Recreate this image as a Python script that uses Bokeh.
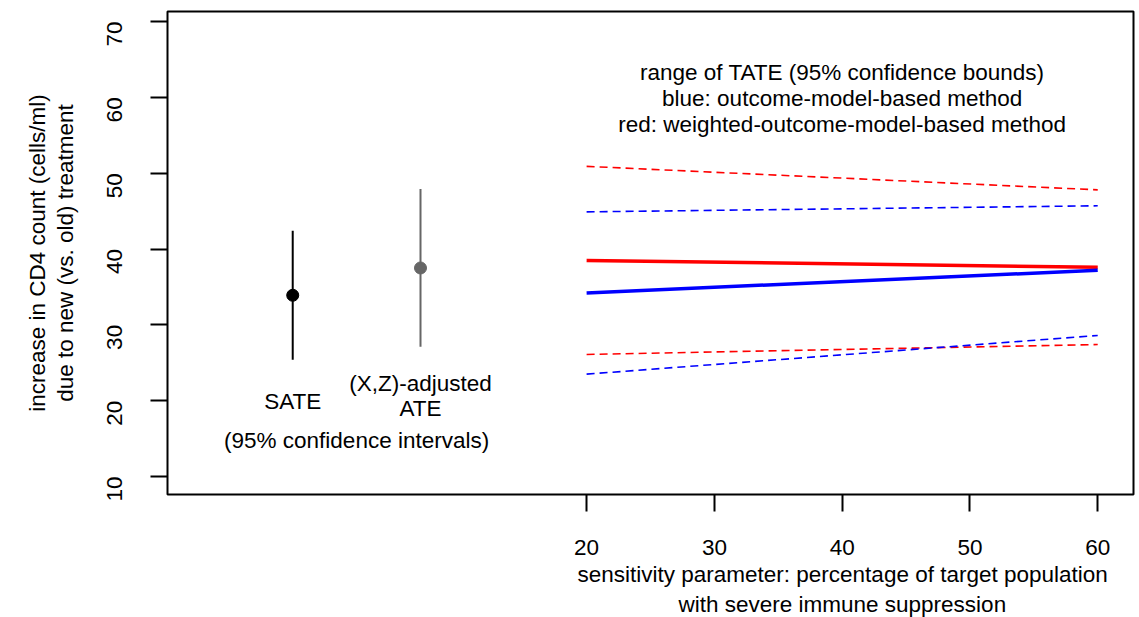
import math
from bokeh.plotting import figure
from bokeh.models import Range1d, FixedTicker, Label, LinearAxis, Title
from bokeh.embed import file_html
from bokeh.resources import INLINE

# ---- data ----
x_ticks = [20, 30, 40, 50, 60]
y_ticks = [10, 20, 30, 40, 50, 60, 70]

# sample / adjusted estimates with 95% CIs
ci_names = ["SATE", "ATE"]
ci_x = [-3, 7]
ci_est = [33.9, 37.5]
ci_lo = [25.4, 27.1]
ci_hi = [42.4, 47.9]
ci_colors = ["black", "#666666"]

# sensitivity analysis of TATE
sens = [20, 60]
blue_est = [34.2, 37.2]
blue_lo = [23.5, 28.6]
blue_hi = [44.9, 45.7]
red_est = [38.5, 37.6]
red_lo = [26.1, 27.4]
red_hi = [50.9, 47.8]

FONT = "Liberation Sans"
FS = "22.5px"

p = figure(width=1136, height=617, output_backend="svg", toolbar_location=None,
           x_range=Range1d(-12.8, 62.8), y_range=Range1d(7.63, 71.32),
           min_border_left=167, min_border_right=3, min_border_top=11,
           min_border_bottom=123)
p.grid.visible = False
p.outline_line_color = "black"
p.outline_line_width = 2
p.background_fill_color = "white"
p.border_fill_color = "white"

def style_axis(ax):
    ax.axis_line_color = None
    ax.major_tick_in = 0
    ax.major_tick_out = 17
    ax.major_tick_line_width = 2
    ax.major_tick_line_color = "black"
    ax.minor_tick_out = 0
    ax.minor_tick_in = 0
    ax.major_label_text_font = FONT
    ax.major_label_text_font_size = FS
    ax.major_label_text_color = "black"
    ax.axis_label_text_font = FONT
    ax.axis_label_text_font_size = FS
    ax.axis_label_text_font_style = "normal"
    ax.axis_label_text_color = "black"

style_axis(p.xaxis[0])
style_axis(p.yaxis[0])

p.xaxis.ticker = FixedTicker(ticks=x_ticks)
p.yaxis.ticker = FixedTicker(ticks=y_ticks)
p.xaxis.major_label_standoff = 28
p.yaxis.major_label_standoff = 36
p.yaxis.major_label_orientation = math.pi / 2

p.yaxis.axis_label = "due to new (vs. old) treatment"
p.yaxis.axis_label_standoff = 19

y2 = LinearAxis(ticker=FixedTicker(ticks=[]),
                axis_label="increase in CD4 count (cells/ml)")
style_axis(y2)
y2.major_tick_out = 0
y2.axis_label_standoff = 0
p.add_layout(y2, "left")

# x-axis title, centred under x = 40 (two lines)
xt1 = Title(text="sensitivity parameter: percentage of target population",
            align="left", offset=410, standoff=5,
            text_font=FONT, text_font_size=FS, text_font_style="normal",
            text_color="black")
xt2 = Title(text="with severe immune suppression",
            align="left", offset=511, standoff=0,
            text_font=FONT, text_font_size=FS, text_font_style="normal",
            text_color="black")
p.add_layout(xt1, "below")
p.add_layout(xt2, "below")

# CI bars and points
p.segment(x0=ci_x, y0=ci_lo, x1=ci_x, y1=ci_hi, line_color=ci_colors, line_width=2)
p.scatter(x=ci_x, y=ci_est, size=12, fill_color=ci_colors, line_color=ci_colors)

# sensitivity lines
p.line(sens, red_hi, line_color="red", line_width=1.6, line_dash="8 5")
p.line(sens, blue_hi, line_color="blue", line_width=1.6, line_dash="8 5")
p.line(sens, red_lo, line_color="red", line_width=1.6, line_dash="8 5")
p.line(sens, blue_lo, line_color="blue", line_width=1.6, line_dash="8 5")
p.line(sens, red_est, line_color="red", line_width=3.5)
p.line(sens, blue_est, line_color="blue", line_width=3.5)

def txt(x, y, s):
    p.add_layout(Label(x=x, y=y, text=s, text_font=FONT, text_font_size=FS,
                       text_color="black", text_align="center",
                       text_baseline="middle"))

txt(-3, 19.9, "SATE")
txt(7, 22.3, "(X,Z)-adjusted")
txt(7, 19.0, "ATE")
txt(2, 14.8, "(95% confidence intervals)")
txt(40, 63.3, "range of TATE (95% confidence bounds)")
txt(40, 59.85, "blue: outcome-model-based method")
txt(40, 56.4, "red: weighted-outcome-model-based method")

open("out.html", "w").write(file_html(p, INLINE))
